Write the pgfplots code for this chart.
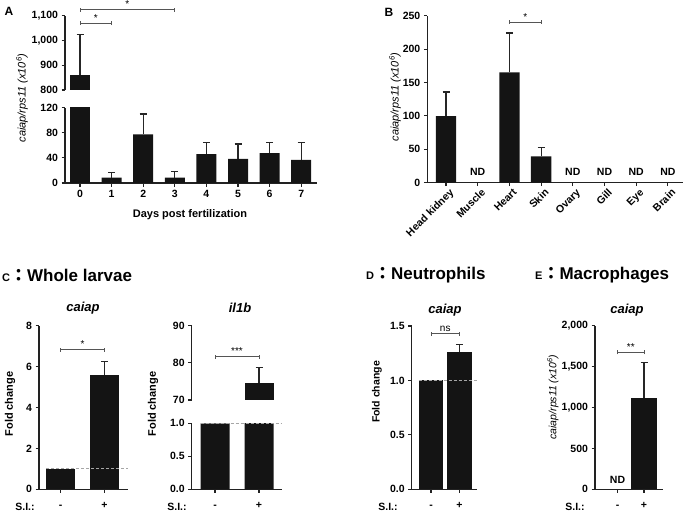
\documentclass[border=0pt]{standalone}
\usepackage{fontspec}
\setmainfont{Liberation Sans}
\newfontfamily\cjk{Noto Sans CJK JP}
\usepackage{pgfplots}
\pgfplotsset{compat=1.18}
\definecolor{barc}{HTML}{141414}
\definecolor{axc}{HTML}{222222}
\definecolor{ebc}{HTML}{262626}
\definecolor{sigc}{HTML}{555555}
\newcommand\fs[1]{\fontsize{#1}{#1}\selectfont}
\tikzset{refl/.style={densely dashed, gray!70, line width=0.8pt}}
% significance bracket: x1 x2 y text
\newcommand\sig[4]{%
  \draw[sigc, line width=0.9pt] (axis cs:#1,#3) -- node[above, inner sep=1.5pt, black, font=\fs{10}] {#4} (axis cs:#2,#3);
  \draw[sigc, line width=0.9pt] ([yshift=-2pt]axis cs:#1,#3) -- ([yshift=2pt]axis cs:#1,#3);
  \draw[sigc, line width=0.9pt] ([yshift=-2pt]axis cs:#2,#3) -- ([yshift=2pt]axis cs:#2,#3);}
\pgfplotsset{
  gp/.style={scale only axis, anchor=south west, axis lines*=left,
    axis line style={-, line width=1.2pt, axc},
    tick align=outside, major tick length=3.5pt,
    tick style={line width=1.1pt, axc},
    ticklabel style={font=\fs{10.5}\bfseries},
    scaled y ticks=false, clip mode=individual,
    /pgf/number format/.cd, 1000 sep={,}, assume math mode=true},
  upper/.style={xtick=\empty, x axis line style={draw=none}},
  onedec/.style={yticklabel style={/pgf/number format/.cd, fixed, fixed zerofill, precision=1}},
  silab/.style={xtick={0,1}, xticklabels={-,+}, xticklabel style={anchor=base, inner sep=0pt, yshift=-16pt}},
  bars/.style={ybar, bar shift=0pt, fill=barc, draw=none},
  eb/.style={error bars/.cd, y dir=plus, y explicit, error mark=-,
    error bar style={line width=1.2pt, ebc},
    error mark options={rotate=90, line width=1.2pt, ebc, mark size=3.5pt}}
}
\begin{document}
\begin{tikzpicture}[x=1pt, y=1pt]
\useasboundingbox (0,0) rectangle (684,512);

% ---------- A ----------
\begin{axis}[gp, at={(65pt,329pt)}, width=251.7pt, height=75.3pt,
  xmin=-0.475, xmax=7.49, ymin=0, ymax=120, ytick={0,40,80,120}, xtick={0,...,7}]
\addplot[bars, bar width=20pt] coordinates {(0,862)};
\addplot[bars, bar width=20pt, eb] coordinates {
  (1,8.4) +- (0,8.6) (2,77.3) +- (0,32.7) (3,8.7) +- (0,9.3) (4,46) +- (0,19)
  (5,38.6) +- (0,23.4) (6,47.6) +- (0,17.4) (7,37) +- (0,27)};
\end{axis}
\begin{axis}[gp, upper, at={(65pt,422pt)}, width=251.7pt, height=74.3pt,
  xmin=-0.475, xmax=7.49, ymin=800, ymax=1100, ytick={800,900,1000,1100}]
\addplot[bars, bar width=20pt, eb] coordinates {(0,862) +- (0,161)};
\sig{0}{1}{1070}{*}
\sig{0}{3}{1125}{*}
\end{axis}
\node[font=\fs{12}\bfseries] at (9,501) {A};
\node[rotate=90, font=\fs{11}\itshape] at (22,414) {caiap/rps11 (x10\textsuperscript{6})};
\node[font=\fs{11}\bfseries] at (190,297) {Days post fertilization};

% ---------- B ----------
\begin{axis}[gp, at={(427.3pt,329.3pt)}, width=255.7pt, height=167pt,
  xmin=-0.59, xmax=7.476, ymin=0, ymax=250, ytick={0,50,...,250}, xtick={0,...,7},
  xticklabels={Head kidney,Muscle,Heart,Skin,Ovary,Gill,Eye,Brain},
  xticklabel style={rotate=45, anchor=north east, inner sep=1pt, yshift=-2pt, xshift=2pt}]
\addplot[bars, bar width=20.3pt, eb] coordinates {(0,99.8) +- (0,36) (2,165.3) +- (0,58.7) (3,39.5) +- (0,12.9)};
\node[font=\fs{10.5}\bfseries] at (axis cs:1,16.5) {ND};
\node[font=\fs{10.5}\bfseries] at (axis cs:4,16.5) {ND};
\node[font=\fs{10.5}\bfseries] at (axis cs:5,16.5) {ND};
\node[font=\fs{10.5}\bfseries] at (axis cs:6,16.5) {ND};
\node[font=\fs{10.5}\bfseries] at (axis cs:7,16.5) {ND};
\sig{2}{3}{240.6}{*}
\end{axis}
\node[font=\fs{12}\bfseries] at (389,500) {B};
\node[rotate=90, font=\fs{11}\itshape] at (395,415) {caiap/rps11 (x10\textsuperscript{6})};

% ---------- C ----------
\node[anchor=west, font=\bfseries, inner sep=0pt] at (2,237) {{\fs{11}C}{\cjk\fs{17}：}{\fs{17}Whole larvae}};
\begin{axis}[gp, silab, at={(39pt,22.7pt)}, width=89.3pt, height=163.6pt,
  xmin=-0.489, xmax=1.541, ymin=0, ymax=8, ytick={0,2,...,8}]
\addplot[bars, bar width=28.7pt] coordinates {(0,0.98)};
\addplot[bars, bar width=28.7pt, eb] coordinates {(1,5.59) +- (0,0.65)};
\draw[refl] (axis cs:-0.326,1) -- (axis cs:1.541,1);
\sig{0}{1}{6.83}{*}
\end{axis}
\node[font=\fs{13}\bfseries\itshape] at (83,204) {caiap};
\node[rotate=90, font=\fs{11}\bfseries] at (10,108) {Fold change};
\node[font=\fs{10.5}\bfseries, inner sep=0pt] at (25,5.5) {S.I.:};

\begin{axis}[gp, onedec, silab, at={(191.7pt,22.7pt)}, width=90pt, height=66pt,
  xmin=-0.53, xmax=1.515, ymin=0, ymax=1, ytick={0,0.5,1}]
\addplot[bars, bar width=29pt] coordinates {(0,1) (1,74.6)};
\draw[refl] (axis cs:-0.33,1) -- (axis cs:1.515,1);
\end{axis}
\begin{axis}[gp, upper, at={(191.7pt,112pt)}, width=90pt, height=74.3pt,
  xmin=-0.53, xmax=1.515, ymin=70, ymax=90, ytick={70,80,90}]
\addplot[bars, bar width=29pt, eb] coordinates {(1,74.6) +- (0,4.1)};
\sig{0}{1}{81.7}{***}
\end{axis}
\node[font=\fs{13}\bfseries\itshape] at (240,204) {il1b};
\node[rotate=90, font=\fs{11}\bfseries] at (153,108) {Fold change};
\node[font=\fs{10.5}\bfseries, inner sep=0pt] at (177,5.5) {S.I.:};

% ---------- D ----------
\node[anchor=west, font=\bfseries, inner sep=0pt] at (366,237) {{\fs{11}D}{\cjk\fs{17}：}{\fs{17}Neutrophils}};
\begin{axis}[gp, onedec, silab, at={(411.7pt,22.7pt)}, width=65pt, height=163.3pt,
  xmin=-0.677, xmax=1.604, ymin=0, ymax=1.5, ytick={0,0.5,1,1.5}]
\addplot[bars, bar width=24.5pt] coordinates {(0,1)};
\addplot[bars, bar width=24.5pt, eb] coordinates {(1,1.259) +- (0,0.071)};
\draw[refl] (axis cs:-0.43,1) -- (axis cs:1.604,1);
\sig{0}{1}{1.43}{ns}
\end{axis}
\node[font=\fs{13}\bfseries\itshape] at (445,202) {caiap};
\node[rotate=90, font=\fs{10.5}\bfseries] at (377,120) {Fold change};
\node[font=\fs{10.5}\bfseries, inner sep=0pt] at (388,5.5) {S.I.:};

% ---------- E ----------
\node[anchor=west, font=\bfseries, inner sep=0pt] at (535,237) {{\fs{11}E}{\cjk\fs{17}：}{\fs{17}Macrophages}};
\begin{axis}[gp, silab, at={(595pt,22.7pt)}, width=68.3pt, height=163.6pt,
  xmin=-0.849, xmax=1.728, ymin=0, ymax=2000, ytick={0,500,...,2000}]
\addplot[bars, bar width=25.7pt, eb] coordinates {(1,1112) +- (0,440)};
\node[font=\fs{10.5}\bfseries] at (axis cs:0,114) {ND};
\sig{0}{1}{1675}{**}
\end{axis}
\node[font=\fs{13}\bfseries\itshape] at (627,202) {caiap};
\node[rotate=90, font=\fs{10.5}\itshape] at (553,115) {caiap/rps11 (x10\textsuperscript{6})};
\node[font=\fs{10.5}\bfseries, inner sep=0pt] at (575,5.5) {S.I.:};
\end{tikzpicture}
\end{document}
